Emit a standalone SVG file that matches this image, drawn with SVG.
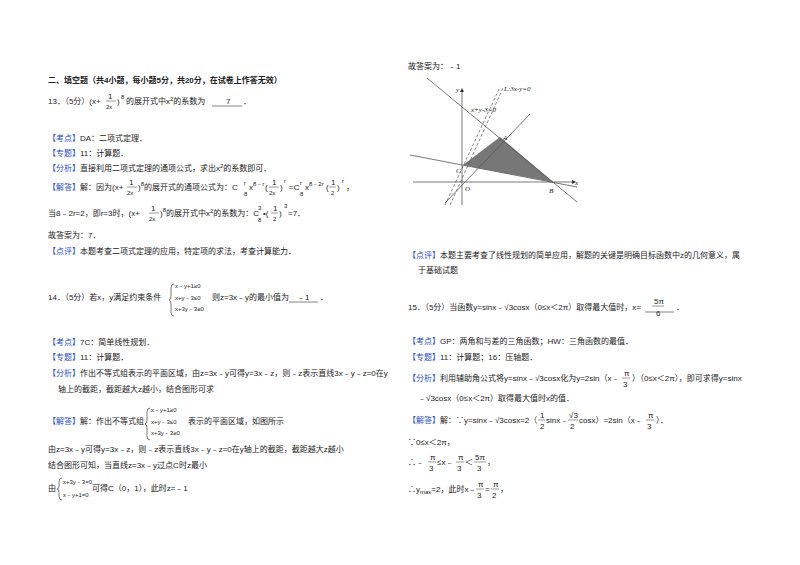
<svg xmlns="http://www.w3.org/2000/svg" width="800" height="565" viewBox="0 0 800 565">
<style>
text{font-family:"Liberation Sans","Noto Sans CJK SC",sans-serif;font-size:8px;fill:#222}
.b{font-weight:bold}
.k{fill:#2a4cc8}
.s{font-size:6px}
.g{font-family:"Liberation Serif","Noto Sans CJK SC",serif;font-style:italic;font-size:7px}
.ln{stroke:#555;stroke-width:0.8;fill:none}
.dl{stroke:#555;stroke-width:0.7;stroke-dasharray:3,2;fill:none}
.br{stroke:#444;stroke-width:0.7;fill:none}
.u{stroke:#333;stroke-width:0.6}
</style>
<rect width="800" height="565" fill="#fff"/>
<g id="left">
<text x="48" y="83" class="b">二、填空题（共4小题，每小题5分，共20分，在试卷上作答无效）</text>
<text x="48" y="104">13．（5分）(x+</text>
<text x="108" y="99">1</text><line x1="106" y1="101" x2="116" y2="101" stroke="#333" stroke-width="0.5"/><text x="106" y="109" class="s">2x</text>
<text x="117" y="104">)</text><text x="121" y="99" class="s">8</text>
<text x="126" y="104">的展开式中x<tspan class="s" dy="-3">2</tspan><tspan dy="3">的系数为</tspan></text>
<text x="226" y="104">7</text><line class="u" x1="212" y1="106" x2="242" y2="106"/><text x="243" y="104">．</text>
<text x="48" y="141"><tspan class="k">【考点】</tspan>DA：二项式定理．</text>
<text x="48" y="156"><tspan class="k">【专题】</tspan>11：计算题．</text>
<text x="48" y="171"><tspan class="k">【分析】</tspan>直接利用二项式定理的通项公式，求出x<tspan class="s" dy="-3">2</tspan><tspan dy="3">的系数即可．</tspan></text>
<text x="48" y="190"><tspan class="k">【解答】</tspan>解：因为(x+</text>
<text x="129" y="185">1</text><line x1="127" y1="187" x2="137" y2="187" stroke="#333" stroke-width="0.5"/><text x="127" y="195" class="s">2x</text>
<text x="138" y="190">)<tspan class="s" dy="-4">8</tspan><tspan dy="4">的展开式的通项公式为：C</tspan></text>
<text x="244" y="185" class="s">r</text><text x="244" y="196" class="s">8</text>
<text x="249" y="190">x<tspan class="s" dy="-4">8﹣r</tspan></text>
<text x="265" y="190">(</text><text x="272" y="185">1</text><line x1="269" y1="187" x2="279" y2="187" stroke="#333" stroke-width="0.5"/><text x="269" y="195" class="s">2x</text><text x="280" y="190">)</text><text x="284" y="183" class="s">r</text>
<text x="289" y="190">=C</text><text x="300" y="185" class="s">r</text><text x="300" y="196" class="s">8</text><text x="305" y="190">x<tspan class="s" dy="-4">8﹣2r</tspan></text>
<text x="326" y="190">(</text><text x="331" y="185">1</text><line x1="329" y1="187" x2="336" y2="187" stroke="#333" stroke-width="0.5"/><text x="331" y="195" class="s">2</text><text x="337" y="190">)</text><text x="342" y="183" class="s">r</text><text x="346" y="190">，</text>
<text x="48" y="216">当8﹣2r=2，即r=3时，(x+</text>
<text x="151" y="211">1</text><line x1="149" y1="213" x2="159" y2="213" stroke="#333" stroke-width="0.5"/><text x="149" y="221" class="s">2x</text>
<text x="160" y="216">)<tspan class="s" dy="-4">8</tspan><tspan dy="4">的展开式中x</tspan><tspan class="s" dy="-3">2</tspan><tspan dy="3">的系数为：C</tspan></text>
<text x="258" y="210" class="s">3</text><text x="258" y="222" class="s">8</text>
<text x="263" y="216">•(</text><text x="273" y="211">1</text><line x1="271" y1="213" x2="278" y2="213" stroke="#333" stroke-width="0.5"/><text x="273" y="221" class="s">2</text><text x="279" y="216">)</text><text x="284" y="208" class="s">3</text><text x="288" y="216">=7．</text>
<text x="48" y="238">故答案为：7．</text>
<text x="48" y="254"><tspan class="k">【点评】</tspan>本题考查二项式定理的应用，特定项的求法，考查计算能力．</text>
<text x="48" y="300">14．（5分）若x，y满足约束条件</text>
<path class="br" d="M174,284 Q171,284 171,288 L171,296 Q171,300 169,300 Q171,300 171,304 L171,312 Q171,316 174,316"/>
<text x="175" y="288" class="s">x﹣y+1≥0</text><text x="175" y="300" class="s">x+y﹣3≤0</text><text x="175" y="311" class="s">x+3y﹣3≥0</text>
<text x="212" y="300">则z=3x﹣y的最小值为</text>
<text x="297" y="300">﹣1</text><line class="u" x1="289" y1="302" x2="318" y2="302"/><text x="320" y="300">．</text>
<text x="48" y="345"><tspan class="k">【考点】</tspan>7C：简单线性规划．</text>
<text x="48" y="360"><tspan class="k">【专题】</tspan>11：计算题．</text>
<text x="48" y="376"><tspan class="k">【分析】</tspan>作出不等式组表示的平面区域，由z=3x﹣y可得y=3x﹣z，则﹣z表示直线3x﹣y﹣z=0在y</text>
<text x="58" y="392">轴上的截距，截距越大z越小，结合图形可求</text>
<text x="48" y="424"><tspan class="k">【解答】</tspan>解：作出不等式组</text>
<path class="br" d="M150,408 Q147,408 147,412 L147,420 Q147,424 145,424 Q147,424 147,428 L147,436 Q147,440 150,440"/>
<text x="151" y="412" class="s">x﹣y+1≥0</text><text x="151" y="424" class="s">x+y﹣3≤0</text><text x="151" y="435" class="s">x+3y﹣3≥0</text>
<text x="188" y="424">表示的平面区域，如图所示</text>
<text x="48" y="452">由z=3x﹣y可得y=3x﹣z，则﹣z表示直线3x﹣y﹣z=0在y轴上的截距，截距越大z越小</text>
<text x="48" y="468">结合图形可知，当直线z=3x﹣y过点C时z最小</text>
<text x="48" y="491">由</text>
<path class="br" d="M62,478 Q59,478 59,482 L59,486 Q59,489 57,489 Q59,489 59,492 L59,496 Q59,500 62,500"/>
<text x="63" y="484" class="s">x+3y﹣3=0</text><text x="63" y="497" class="s">x﹣y+1=0</text>
<text x="92" y="491">可得C（0，1），此时z=﹣1</text>
</g>
<g id="graph">
<polygon points="463,165 500,137 553,182" fill="#777"/>
<line class="ln" x1="413" y1="182" x2="572" y2="182"/>
<polygon points="572,180 576,182 572,184" fill="#333"/>
<line class="ln" x1="462" y1="205" x2="462" y2="92"/>
<polygon points="460,92 462,88 464,92" fill="#333"/>
<line class="ln" x1="445" y1="203" x2="530" y2="114"/>
<line class="ln" x1="427" y1="78" x2="577" y2="202"/>
<line class="ln" x1="410" y1="155" x2="577" y2="187"/>
<line class="dl" x1="445" y1="205" x2="500" y2="87"/>
<line class="dl" x1="450" y1="205" x2="503" y2="88"/>
<text x="504" y="91" class="g">L:3x-y=0</text>
<text x="471" y="112" class="g">x+y-3=0</text>
<text x="456" y="92" class="g">y</text>
<text x="575" y="185" class="g">x</text>
<text x="503" y="140" class="g">A</text>
<text x="549" y="193" class="g">B</text>
<text x="456" y="173" class="g">C</text>
<text x="465" y="191" class="g">O</text>
</g>
<g id="right">
<text x="408" y="69">故答案为：﹣1</text>
<text x="408" y="258"><tspan class="k">【点评】</tspan>本题主要考查了线性规划的简单应用，解题的关键是明确目标函数中z的几何意义，属</text>
<text x="418" y="273">于基础试题</text>
<text x="408" y="310">15．（5分）当函数y=sinx﹣√3cosx（0≤x＜2π）取得最大值时，x=</text>
<line class="u" x1="645" y1="312" x2="674" y2="312"/>
<text x="654" y="304">5π</text><line x1="652" y1="306" x2="664" y2="306" stroke="#333" stroke-width="0.5"/><text x="656" y="316">6</text>
<text x="676" y="310">．</text>
<text x="408" y="344"><tspan class="k">【考点】</tspan>GP：两角和与差的三角函数；HW：三角函数的最值．</text>
<text x="408" y="360"><tspan class="k">【专题】</tspan>11：计算题；16：压轴题．</text>
<text x="408" y="381"><tspan class="k">【分析】</tspan>利用辅助角公式将y=sinx﹣√3cosx化为y=2sin（x﹣</text>
<text x="624" y="376">π</text><line x1="622" y1="378" x2="630" y2="378" stroke="#333" stroke-width="0.5"/><text x="623" y="387">3</text>
<text x="632" y="381">）（0≤x＜2π），即可求得y=sinx</text>
<text x="418" y="401">﹣√3cosx（0≤x＜2π）取得最大值时x的值．</text>
<text x="408" y="423"><tspan class="k">【解答】</tspan>解：∵y=sinx﹣√3cosx=2（</text>
<text x="540" y="418">1</text><line x1="538" y1="420" x2="545" y2="420" stroke="#333" stroke-width="0.5"/><text x="540" y="429">2</text>
<text x="546" y="423">sinx﹣</text>
<text x="569" y="418">√3</text><line x1="568" y1="420" x2="578" y2="420" stroke="#333" stroke-width="0.5"/><text x="570" y="429">2</text>
<text x="579" y="423">cosx）=2sin（x﹣</text>
<text x="648" y="418">π</text><line x1="646" y1="420" x2="654" y2="420" stroke="#333" stroke-width="0.5"/><text x="647" y="429">3</text>
<text x="656" y="423">）．</text>
<text x="408" y="445">∵0≤x＜2π，</text>
<text x="408" y="465">∴﹣</text>
<text x="430" y="460">π</text><line x1="428" y1="462" x2="436" y2="462" stroke="#333" stroke-width="0.5"/><text x="429" y="471">3</text>
<text x="437" y="465">≤x﹣</text>
<text x="458" y="460">π</text><line x1="456" y1="462" x2="464" y2="462" stroke="#333" stroke-width="0.5"/><text x="457" y="471">3</text>
<text x="465" y="465">＜</text>
<text x="475" y="460">5π</text><line x1="474" y1="462" x2="486" y2="462" stroke="#333" stroke-width="0.5"/><text x="477" y="471">3</text>
<text x="487" y="465">，</text>
<text x="408" y="492">∴y<tspan class="s" dy="2">max</tspan><tspan dy="-2">=2，此时x﹣</tspan></text>
<text x="478" y="487">π</text><line x1="476" y1="489" x2="484" y2="489" stroke="#333" stroke-width="0.5"/><text x="477" y="498">3</text>
<text x="485" y="492">=</text>
<text x="493" y="487">π</text><line x1="491" y1="489" x2="499" y2="489" stroke="#333" stroke-width="0.5"/><text x="492" y="498">2</text>
<text x="500" y="492">，</text>
</g>
</svg>
